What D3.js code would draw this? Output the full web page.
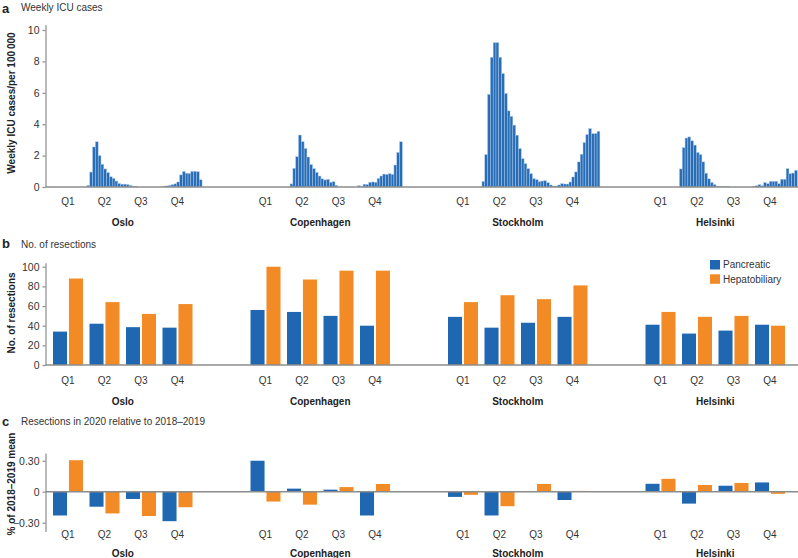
<!DOCTYPE html>
<html><head><meta charset="utf-8">
<script src="https://cdn.jsdelivr.net/npm/d3@7"></script>
<style>
body{margin:0;background:#fff}
svg{display:block;font-family:"Liberation Sans",Arial,Helvetica,sans-serif}
</style></head>
<body><svg id="chart" width="798" height="558"></svg>
<script>
// ---------- data ----------
const cities = ["Oslo", "Copenhagen", "Stockholm", "Helsinki"];
const quarters = ["Q1", "Q2", "Q3", "Q4"];
const seriesNames = ["Pancreatic", "Hepatobiliary"];
const seriesColors = ["#1f67b1", "#f28a26"];

// weekly ICU cases per 100 000 (first week index of each series)
const icuStartWeek = [14, 16, 14, 14];
const icuOslo = [0.1,0.95,2.55,2.88,2.0,1.45,1.15,0.92,0.65,0.55,0.38,0.22,0.18,0.18,0.16,0.1,0.06,0.04,
  0,0,0,0,0,0,0,0,0,
  0.04,0.07,0.1,0.15,0.2,0.32,0.77,0.98,0.88,0.86,0.99,1.0,0.97,0.46];
const icuCopenhagen = [0.2,1.19,1.93,3.31,2.89,2.46,1.91,1.43,1.17,0.93,0.7,0.52,0.45,0.49,0.3,0.34,0.1,
  0,0,0,0,0,0,0,
  0.08,0.02,0.18,0.16,0.3,0.32,0.3,0.55,0.7,0.82,0.8,0.85,0.8,1.4,2.2,2.88];
const icuStockholm = [0.36,2.06,5.9,8.26,9.19,9.19,8.26,7.23,5.96,4.85,4.5,3.94,3.3,2.45,1.8,1.49,1.17,0.85,
  0.53,0.47,0.34,0.38,0.4,0.28,0.13,0.06,0.06,0.13,0.21,0.19,0.19,0.32,0.64,0.96,1.6,2.09,2.83,3.34,3.72,3.4,3.4,3.55];
const icuHelsinki = [1.15,2.5,3.12,3.19,2.94,2.67,2.2,2.07,1.6,0.88,0.52,0.29,0.16,0.06,0.03,0.02,0.02,0.02,
  0,0,0,0,0,0,0,0,
  0.03,0.08,0.15,0.08,0.28,0.21,0.36,0.36,0.36,0.21,0.49,0.49,1.17,0.85,0.89,1.06];
const icuSeries = [icuOslo, icuCopenhagen, icuStockholm, icuHelsinki];
const icuTicks = [0, 2, 4, 6, 8, 10];

// number of resections per quarter
const resPancreatic   = [[34, 42, 38.5, 38], [56, 54, 50, 40], [49, 38, 43, 49], [41, 32, 35, 41]];
const resHepatobiliary = [[88, 64, 52, 62], [100, 87, 96, 96], [64, 71, 67, 81], [54, 49, 50, 40]];
const resTicks = [0, 20, 40, 60, 80, 100];

// resections 2020 relative to 2018-2019 mean
const relPancreatic   = [[-0.23, -0.145, -0.07, -0.285], [0.30, 0.03, 0.02, -0.23], [-0.05, -0.23, 0, -0.08], [0.077, -0.115, 0.058, 0.09]];
const relHepatobiliary = [[0.305, -0.21, -0.235, -0.15], [-0.095, -0.125, 0.045, 0.075], [-0.03, -0.14, 0.075, 0.008], [0.125, 0.065, 0.085, -0.02]];
const relTicks = [-0.3, 0, 0.3];
const relTickLabels = ["\u22120.30", "0", "0.30"];

// ---------- layout ----------
const svg = d3.select("#chart");
const W = 798;
const axisX = 45.5;
const gray = "#8c8c8c";
const textCol = "#333";

const xCity = d3.scalePoint().domain(cities).range([122.75, 715.25]);
const xQuarter = d3.scalePoint().domain(quarters).range([-54.75, 54.75]);
const xSeries = d3.scaleBand().domain(seriesNames).range([-15, 15]).paddingInner(0.12);
const xWeek = d3.scaleLinear().domain([1, 53]).range([-72.3, -72.3 + 52 * 2.8077]);
const weekW = xWeek(2) - xWeek(1);

const yA = d3.scaleLinear().domain([0, 10.35]).range([187, 24.5]);
const yB = d3.scaleLinear().domain([0, 104]).range([365, 262.8]);
const yC = d3.scaleLinear().domain([-0.385, 0.375]).range([531.5, 453]);

function styleAxis(g) {
  g.select(".domain").attr("stroke", gray).attr("stroke-width", 1.2);
  g.selectAll(".tick line").attr("stroke", gray).attr("stroke-width", 1.2);
  g.selectAll(".tick text").attr("fill", textCol).attr("font-size", "10.5px");
}

function panelTitle(letter, text, y, letterY) {
  svg.append("text").attr("x", 2).attr("y", letterY).attr("font-weight", "bold")
    .attr("font-size", "13px").attr("fill", "#222").text(letter);
  svg.append("text").attr("x", 21).attr("y", y).attr("font-size", "10px")
    .attr("fill", textCol).text(text);
}

function yLabel(text, cy) {
  svg.append("text").attr("transform", `translate(14.5,${cy}) rotate(-90)`)
    .attr("text-anchor", "middle").attr("font-weight", "bold").attr("font-size", "10px")
    .attr("fill", "#222").text(text);
}

function xLabels(qy, cy) {
  cities.forEach(c => {
    quarters.forEach(q => {
      svg.append("text").attr("x", xCity(c) + xQuarter(q)).attr("y", qy)
        .attr("text-anchor", "middle").attr("font-size", "10px").attr("fill", textCol).text(q);
    });
    svg.append("text").attr("x", xCity(c)).attr("y", cy).attr("text-anchor", "middle")
      .attr("font-weight", "bold").attr("font-size", "10px").attr("fill", "#222").text(c);
  });
}

// ---------- panel a ----------
panelTitle("a", "Weekly ICU cases", 11, 12.5);
yLabel("Weekly ICU cases/per 100\u202f000", 103);
const gA = svg.append("g");
cities.forEach((c, ci) => {
  const vals = icuSeries[ci];
  gA.selectAll(null).data(vals).join("rect")
    .attr("x", (d, i) => xCity(c) + xWeek(icuStartWeek[ci] + i))
    .attr("width", weekW)
    .attr("y", d => yA(d))
    .attr("height", d => yA(0) - yA(d))
    .attr("fill", "#2a6db5").attr("stroke", "#a9cbee").attr("stroke-width", 0.45);
});
svg.append("line").attr("x1", axisX).attr("x2", W).attr("y1", yA(0)).attr("y2", yA(0))
  .attr("stroke", gray).attr("stroke-width", 1.5);
svg.append("g").attr("transform", `translate(${axisX},0)`)
  .call(d3.axisLeft(yA).tickValues(icuTicks).tickSize(3).tickSizeOuter(0).tickPadding(3))
  .call(styleAxis);
xLabels(204.5, 225.5);

// ---------- panel b ----------
panelTitle("b", "No. of resections", 247.5, 248);
yLabel("No. of resections", 313);
const resData = [resPancreatic, resHepatobiliary];
cities.forEach((c, ci) => {
  quarters.forEach((q, qi) => {
    seriesNames.forEach((s, si) => {
      const v = resData[si][ci][qi];
      svg.append("rect")
        .attr("x", xCity(c) + xQuarter(q) + xSeries(s))
        .attr("width", xSeries.bandwidth())
        .attr("y", yB(v)).attr("height", yB(0) - yB(v))
        .attr("fill", seriesColors[si]);
    });
  });
});
svg.append("line").attr("x1", axisX).attr("x2", W).attr("y1", yB(0)).attr("y2", yB(0))
  .attr("stroke", gray).attr("stroke-width", 1.5);
svg.append("g").attr("transform", `translate(${axisX},0)`)
  .call(d3.axisLeft(yB).tickValues(resTicks).tickSize(3).tickSizeOuter(0).tickPadding(3))
  .call(styleAxis);
xLabels(383.5, 405);

// legend
const legend = svg.append("g").attr("transform", "translate(710,260)");
seriesNames.forEach((s, i) => {
  legend.append("rect").attr("x", 0).attr("y", i * 14.3).attr("width", 10).attr("height", 9.5)
    .attr("fill", seriesColors[i]);
  legend.append("text").attr("x", 13).attr("y", i * 14.3 + 8.2).attr("font-size", "10px")
    .attr("fill", textCol).text(s);
});

// ---------- panel c ----------
panelTitle("c", "Resections in 2020 relative to 2018\u20132019", 425, 425.5);
yLabel("% of 2018\u20132019 mean", 484);
const relData = [relPancreatic, relHepatobiliary];
cities.forEach((c, ci) => {
  quarters.forEach((q, qi) => {
    seriesNames.forEach((s, si) => {
      const v = relData[si][ci][qi];
      svg.append("rect")
        .attr("x", xCity(c) + xQuarter(q) + xSeries(s))
        .attr("width", xSeries.bandwidth())
        .attr("y", Math.min(yC(v), yC(0))).attr("height", Math.abs(yC(v) - yC(0)))
        .attr("fill", seriesColors[si]);
    });
  });
});
svg.append("line").attr("x1", axisX).attr("x2", W).attr("y1", yC(0)).attr("y2", yC(0))
  .attr("stroke", gray).attr("stroke-width", 1.5);
svg.append("g").attr("transform", `translate(${axisX},0)`)
  .call(d3.axisLeft(yC).tickValues(relTicks).tickFormat((d, i) => relTickLabels[i])
    .tickSize(3).tickSizeOuter(0).tickPadding(3))
  .call(styleAxis);
xLabels(537.5, 556.5);
</script>
</body></html>
